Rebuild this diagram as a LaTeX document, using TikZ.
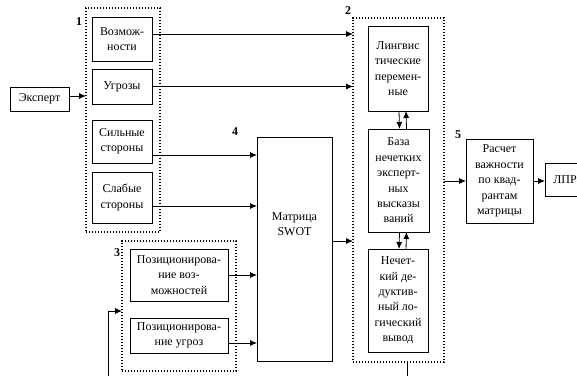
\documentclass[tikz,border=0pt]{standalone}
\usepackage{fontspec}
\setmainfont{Liberation Serif}
\usetikzlibrary{arrows.meta}
\tikzset{
blockbox/.style={draw, line width=0.8bp, align=center, inner sep=1bp, outer sep=0pt,
font=\fontsize{12}{15.5}\selectfont},
groupbox/.style={draw, line width=1.6bp, dash pattern=on 1.4bp off 1.6bp, outer sep=0pt},
groupnum/.style={font=\fontsize{12}{14}\selectfont\bfseries, inner sep=0pt},
wire/.style={line width=0.8bp},
link/.style={line width=0.8bp, -{Latex[length=7bp,width=6bp]}}
}
\begin{document}
\begin{tikzpicture}[x=1bp,y=-1bp]

% page
\useasboundingbox (0,0) rectangle (577,376);
\clip (0,0) rectangle (577,376);

% group layer
\begin{scope}
\node[groupbox, minimum width=74bp, minimum height=224bp] (grpA) at (123,120) {};
\node[groupbox, minimum width=91bp, minimum height=344bp] (grpB) at (398.5,190) {};
\node[groupbox, minimum width=114bp, minimum height=130bp] (grpC) at (179,306) {};
\end{scope}

% numbers
\begin{scope}
\node[groupnum] (numA) at (79,22) {1};
\node[groupnum] (numB) at (348,11) {2};
\node[groupnum] (numC) at (117,253) {3};
\node[groupnum] (numD) at (235,132) {4};
\node[groupnum] (numE) at (458,135) {5};
\end{scope}

% block layer
\begin{scope}
\node[blockbox, minimum width=59bp, minimum height=24bp] (expert) at (39.5,99) {Эксперт};
\node[blockbox, minimum width=60bp, minimum height=44bp] (vozm) at (122,39) {Возмож-\\ности};
\node[blockbox, minimum width=60bp, minimum height=35bp] (ugr) at (122,86.5) {Угрозы};
\node[blockbox, minimum width=60bp, minimum height=43bp] (silnye) at (122,141.5) {Сильные\\стороны};
\node[blockbox, minimum width=60bp, minimum height=51bp] (slabye) at (122,197.5) {Слабые\\стороны};
\node[blockbox, minimum width=98bp, minimum height=52bp] (pozA) at (179,275) {Позиционирова-\\ние воз-\\можностей};
\node[blockbox, minimum width=98bp, minimum height=35bp] (pozB) at (179,335.5) {Позиционирова-\\ние угроз};
\node[blockbox, minimum width=75bp, minimum height=224bp,
label={[align=center, font=\fontsize{12}{15.5}\selectfont, yshift=25bp]center:Матрица\\SWOT}]
(matrix) at (294.5,249) {};
\node[blockbox, minimum width=60bp, minimum height=85bp] (ling) at (398,68.5) {Лингвис\\тические\\перемен-\\ные};
\node[blockbox, minimum width=61bp, minimum height=103bp] (baza) at (398.5,180.5) {База\\нечетких\\эксперт-\\ных\\высказы\\ваний};
\node[blockbox, minimum width=60bp, minimum height=103bp] (nech) at (398,300.5) {Нечет-\\кий де-\\дуктив-\\ный ло-\\гический\\вывод};
\node[blockbox, minimum width=67bp, minimum height=84bp] (rasch) at (499.5,181) {Расчет\\важности\\по квад-\\рантам\\матрицы};
\node[blockbox, minimum width=40bp, minimum height=33bp] (lpr) at (565,179.5) {ЛПР};
\end{scope}

% link layer
\begin{scope}
\path ([yshift=3bp]expert.east) coordinate (expertOut);
\draw[link] (expertOut) -- (expertOut -| grpA.west);
\path ([yshift=5bp]vozm.east) coordinate (vozmOut);
\draw[link] (vozmOut) -- (vozmOut -| grpB.west);
\draw[link] (ugr.east) -- (ugr.east -| grpB.west);
\path ([yshift=-13.5bp]silnye.east) coordinate (silnyeOut);
\draw[link] (silnyeOut) -- (silnyeOut -| matrix.west);
\path ([yshift=-8.5bp]slabye.east) coordinate (slabyeOut);
\draw[link] (slabyeOut) -- (slabyeOut -| matrix.west);
\draw[link] (pozA.east) -- (pozA.east -| matrix.west);
\path ([yshift=-7.5bp]pozB.east) coordinate (pozBOut);
\draw[link] (pozBOut) -- (pozBOut -| matrix.west);
\path ([yshift=8bp]matrix.east) coordinate (matrixOut);
\draw[link] (matrixOut) -- (matrixOut -| grpB.west);
\draw[link] (rasch.west -| grpB.east) -- (rasch.west);
\draw[link] (rasch.east) -- (rasch.east -| lpr.west);
\draw[link] ([xshift=1bp]ling.south) -- ([xshift=1bp]baza.north);
\draw[link] ([xshift=8bp]baza.north) -- ([xshift=8bp]ling.south);
\draw[link] ([xshift=1bp]baza.south) -- ([xshift=1bp]nech.north);
\draw[link] ([xshift=8bp]nech.north) -- ([xshift=8bp]baza.south);
\end{scope}

% feedback
\coordinate (fbOut) at (407,376);
\coordinate (fbIn) at (108,376);
\draw[wire] (fbOut |- grpB.south) -- (fbOut);
\draw[link] (fbIn) |- ([yshift=-5bp]grpC.west);

\end{tikzpicture}
\end{document}
